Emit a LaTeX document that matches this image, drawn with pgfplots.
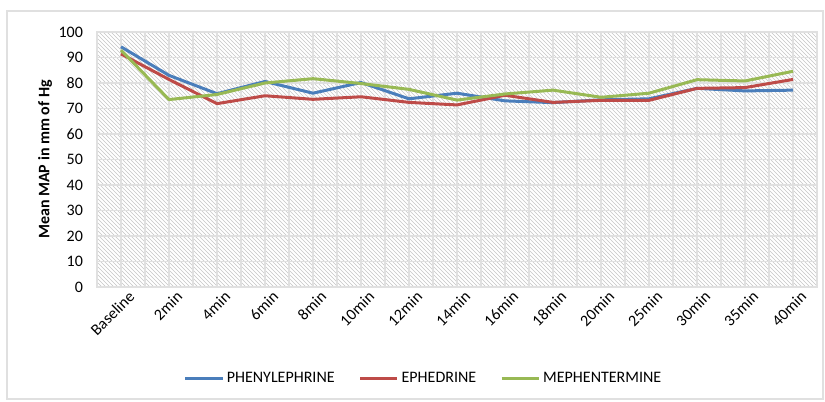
\documentclass[border=0pt]{standalone}
\usepackage{fontspec}
\setmainfont{Carlito}
\usepackage{pgfplots}
\pgfplotsset{compat=1.18}
\usetikzlibrary{patterns}

\definecolor{cblue}{HTML}{4A7EBB}
\definecolor{cred}{HTML}{BE4B48}
\definecolor{cgreen}{HTML}{98B954}
\definecolor{gridc}{HTML}{E0E0E0}

\begin{document}
\begin{tikzpicture}
\useasboundingbox (-72.75pt,-85.5pt) rectangle (546pt,215.25pt);
\draw[gridc, line width=0.8pt] (-67.5pt,-84pt) rectangle (544.5pt,207pt);
\begin{axis}[
    at={(0,0)}, anchor=south west,
    width=540pt, height=191.25pt, scale only axis,
    xmin=-0.5, xmax=14.5, ymin=0, ymax=100,
    xtick={0,...,14},
    minor xtick={-0.5,0.5,...,14.5},
    ytick={0,10,...,100},
    xticklabels={Baseline,2min,4min,6min,8min,10min,12min,14min,16min,18min,20min,25min,30min,35min,40min},
    x tick label style={rotate=45, anchor=north east, font=\fontsize{12}{14}\selectfont, yshift=-4pt, xshift=3pt, inner sep=1pt},
    y tick label style={font=\fontsize{12}{14}\selectfont, xshift=-7pt},
    /pgf/number format/assume math mode=true,
    major tick length=0pt, minor tick length=0pt,
    grid=both,
    major grid style={gridc, line width=0.8pt},
    minor grid style={gridc, line width=0.8pt},
    axis line style={gridc, line width=0.8pt},
    axis background/.style={pattern=north west lines, pattern color=gray!45},
    ylabel={\textbf{Mean MAP in mm of Hg}},
    ylabel style={font=\fontsize{12}{14}\selectfont, yshift=-2pt},
    legend style={at={(0.454,-0.36)}, anchor=center, draw=none, fill=none,
        legend columns=3, font=\fontsize{12}{14}\selectfont,
        /tikz/every even column/.append style={column sep=16pt}},
    legend image code/.code={\draw[#1, line width=2.25pt] (0pt,0pt) -- (28pt,0pt);},
    every axis plot/.append style={line width=2.25pt, line join=round, mark=none},
]
\addplot[cblue] coordinates {
    (0,94.2) (1,83) (2,75.8) (3,80.6) (4,76) (5,80.2) (6,73.8) (7,76)
    (8,73) (9,72.3) (10,73.4) (11,73.8) (12,77.9) (13,76.9) (14,77.2)
};
\addlegendentry{PHENYLEPHRINE}
\addplot[cred] coordinates {
    (0,91.4) (1,81.4) (2,71.9) (3,75) (4,73.6) (5,74.6) (6,72.4) (7,71.4)
    (8,75.2) (9,72.4) (10,73.2) (11,73.2) (12,77.9) (13,78.2) (14,81.4)
};
\addlegendentry{EPHEDRINE}
\addplot[cgreen] coordinates {
    (0,92.9) (1,73.5) (2,75.5) (3,80) (4,81.7) (5,79.8) (6,77.5) (7,73.3)
    (8,75.7) (9,77.2) (10,74.4) (11,76) (12,81.3) (13,80.8) (14,84.6)
};
\addlegendentry{MEPHENTERMINE}
\end{axis}
\end{tikzpicture}
\end{document}
